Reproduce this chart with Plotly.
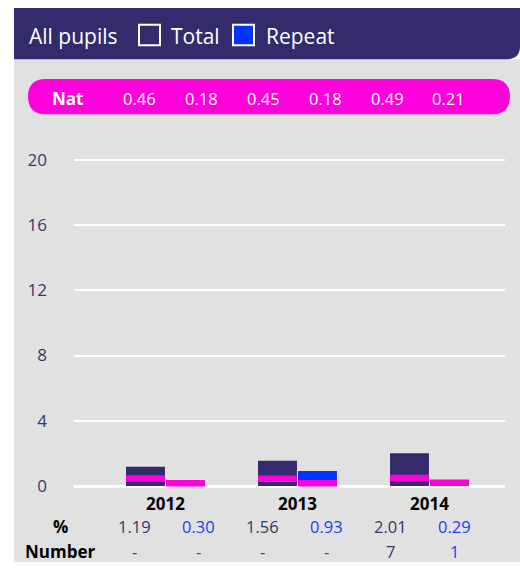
import plotly.graph_objects as go

# chart data
years = ["2012", "2013", "2014"]
total_pct = [1.19, 1.56, 2.01]
repeat_pct = [0.30, 0.93, 0.29]
nat_total = [0.46, 0.45, 0.49]
nat_repeat = [0.18, 0.18, 0.21]
number_total = [None, None, 7]
number_repeat = [None, None, 1]
y_ticks = [0, 4, 8, 12, 16, 20]

W, H = 520, 570
PURPLE = "#332b6b"
MAGENTA = "#ff00dc"
BLUE = "#0033ff"
GREY = "#e1e1e1"
FONT = "Open Sans"


def px(x):
    return x / W


def py(y):
    return 1 - y / H


def rounded_path(x0, y0, x1, y1, r_tl, r_tr, r_br, r_bl):
    # rounded rectangle in paper coords using quadratic curves (pixel input)
    pts = [
        f"M {px(x0 + r_tl)},{py(y0)}",
        f"L {px(x1 - r_tr)},{py(y0)}",
        f"Q {px(x1)},{py(y0)} {px(x1)},{py(y0 + r_tr)}",
        f"L {px(x1)},{py(y1 - r_br)}",
        f"Q {px(x1)},{py(y1)} {px(x1 - r_br)},{py(y1)}",
        f"L {px(x0 + r_bl)},{py(y1)}",
        f"Q {px(x0)},{py(y1)} {px(x0)},{py(y1 - r_bl)}",
        f"L {px(x0)},{py(y0 + r_tl)}",
        f"Q {px(x0)},{py(y0)} {px(x0 + r_tl)},{py(y0)}",
        "Z",
    ]
    return " ".join(pts)


fig = go.Figure()

BW = 0.295
fig.add_trace(go.Bar(x=years, y=total_pct, offset=-0.299, width=BW,
                     marker=dict(color=PURPLE, line=dict(width=0)), name="Total"))
fig.add_trace(go.Bar(x=years, y=repeat_pct, offset=0.004, width=BW,
                     marker=dict(color=BLUE, line=dict(width=0)), name="Repeat"))
# national average markers as thin bands
band = 0.4
fig.add_trace(go.Bar(x=years, y=[band] * len(years), base=[v - band / 2 for v in nat_total],
                     offset=-0.299, width=BW, marker=dict(color=MAGENTA, line=dict(width=0)),
                     name="Nat total"))
fig.add_trace(go.Bar(x=years, y=[band] * len(years), base=[v - band / 2 for v in nat_repeat],
                     offset=0.004, width=BW, marker=dict(color=MAGENTA, line=dict(width=0)),
                     name="Nat repeat"))

shapes = [
    # grey panel
    dict(type="rect", xref="paper", yref="paper", x0=px(14), x1=1, y0=0, y1=py(60),
         fillcolor=GREY, line=dict(width=0), layer="below"),
    # header
    dict(type="path", xref="paper", yref="paper", path=rounded_path(14, 8, 520, 60, 0, 0, 13, 0),
         fillcolor=PURPLE, line=dict(width=0), layer="below"),
    # Nat pill
    dict(type="path", xref="paper", yref="paper", path=rounded_path(28, 80, 510, 116, 18, 18, 18, 18),
         fillcolor=MAGENTA, line=dict(width=0), layer="below"),
    # legend boxes
    dict(type="rect", xref="paper", yref="paper", x0=px(139), x1=px(160), y0=py(46), y1=py(25),
         fillcolor=PURPLE, line=dict(color="white", width=2)),
    dict(type="rect", xref="paper", yref="paper", x0=px(233), x1=px(254), y0=py(46), y1=py(25),
         fillcolor=BLUE, line=dict(color="white", width=2)),
]

annotations = [
    dict(text="All pupils", x=px(27), y=py(37), xanchor="left", font=dict(size=21, color="white")),
    dict(text="Total", x=px(169), y=py(37), xanchor="left", font=dict(size=21, color="white")),
    dict(text="Repeat", x=px(264), y=py(37), xanchor="left", font=dict(size=21, color="white")),
    dict(text="<b>Nat</b>", x=px(67), y=py(100), font=dict(size=17, color="white")),
    dict(text="<b>%</b>", x=px(60), y=py(534), font=dict(size=17, color="black")),
    dict(text="<b>Number</b>", x=px(60), y=py(559), font=dict(size=17, color="black")),
]

nat_cols = [139, 201, 263, 325, 387, 448]
tab_cols = [134, 198, 262, 326, 390, 454]
nat_vals, pct_vals, num_vals, colors = [], [], [], []
for i in range(len(years)):
    nat_vals += [nat_total[i], nat_repeat[i]]
    pct_vals += [total_pct[i], repeat_pct[i]]
    num_vals += [number_total[i], number_repeat[i]]
    colors += ["#3a3468", "#1a3cff"]

for i in range(len(nat_vals)):
    annotations.append(dict(text=f"{nat_vals[i]:.2f}", x=px(nat_cols[i]), y=py(100),
                            font=dict(size=16.5, color="white")))
    annotations.append(dict(text=f"{pct_vals[i]:.2f}", x=px(tab_cols[i]), y=py(534),
                            font=dict(size=16.5, color=colors[i])))
    n = num_vals[i]
    annotations.append(dict(text="-" if n is None else str(n), x=px(tab_cols[i]), y=py(559),
                            font=dict(size=16.5, color=colors[i])))

for a in annotations:
    a.update(xref="paper", yref="paper", showarrow=False, yanchor="middle")
    a.setdefault("xanchor", "center")
    a["font"]["family"] = FONT

fig.update_layout(
    width=W, height=H,
    margin=dict(l=0, r=0, t=0, b=0),
    paper_bgcolor="white",
    plot_bgcolor=GREY,
    barmode="overlay",
    showlegend=False,
    hovermode=False,
    font=dict(family=FONT),
    shapes=shapes,
    annotations=annotations,
    xaxis=dict(
        domain=[px(74), px(505)],
        type="category",
        range=[-0.693, 2.572],
        showgrid=False,
        zeroline=False,
        showline=False,
        ticks="",
        tickfont=dict(size=17, color="black", family=FONT, weight="bold"),
        ticklabelstandoff=3,
    ),
    yaxis=dict(
        domain=[py(496), py(140)],
        range=[-0.181, 21.33],
        tickvals=y_ticks,
        showgrid=True,
        gridcolor="white",
        gridwidth=1.7,
        zeroline=True,
        zerolinecolor="white",
        zerolinewidth=2.5,
        showline=False,
        ticks="",
        tickfont=dict(size=17, color="#3c3570", family=FONT),
        ticklabelstandoff=26,
    ),
)

# drop the default page margin so the figure fills the window exactly
fig.write_html("out.html", post_script="document.body.style.margin='0';",
               config={"displayModeBar": False})
